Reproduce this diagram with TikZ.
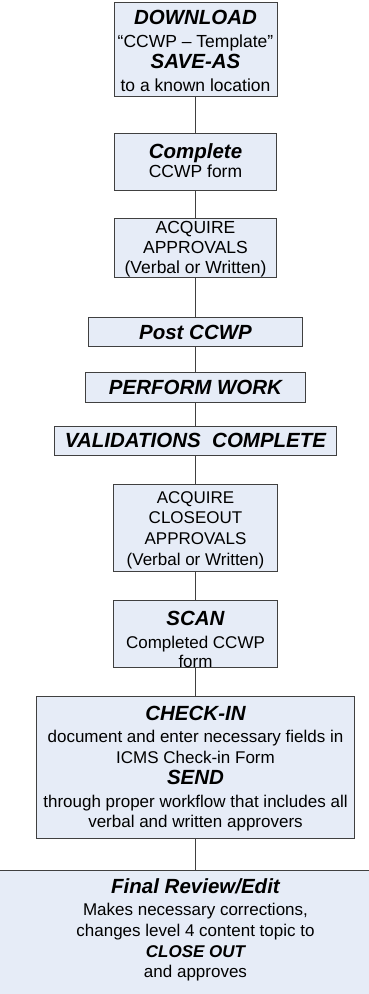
\documentclass[tikz,border=0pt]{standalone}
\usepackage{fontspec}
\setmainfont{Liberation Sans}
\definecolor{boxfill}{RGB}{230,236,247}
\definecolor{boxline}{RGB}{64,64,64}
\newcommand\hd[1]{{\fontsize{20.5}{22}\selectfont\bfseries\itshape #1}}
\newcommand\hs[1]{{\bfseries\itshape #1}}
\begin{document}
\begin{tikzpicture}[x=1pt,y=-1pt,
  box/.style={draw=boxline, fill=boxfill, line width=0.9pt, inner sep=0pt},
  txt/.style={inner sep=0pt, align=center, font=\fontsize{17.5}{21}\selectfont},
  lowtxt/.style={txt, font=\fontsize{17}{20.7}\selectfont},
  link/.style={draw=boxline, line width=1.1pt}]
\useasboundingbox (0,0) rectangle (369,994);
\clip (0,0) rectangle (369,994);
% boxes
\node[box, minimum width=163, minimum height=94] (b1) at (195.5,49) {};
\node[box, minimum width=162, minimum height=57] (b2) at (195.5,161.5) {};
\node[box, minimum width=162, minimum height=59] (b3) at (195.5,247.5) {};
\node[box, minimum width=214, minimum height=29] (b4) at (195.5,331.5) {};
\node[box, minimum width=220, minimum height=30] (b5) at (195.5,387) {};
\node[box, minimum width=282, minimum height=29] (b6) at (195.5,440.5) {};
\node[box, minimum width=164, minimum height=87] (b7) at (195.5,527.5) {};
\node[box, minimum width=164, minimum height=67] (b8) at (195.5,633.5) {};
\node[box, minimum width=318, minimum height=142] (b9) at (195.5,767) {};
\node[box, minimum width=420, minimum height=160, anchor=north] (b10) at (195.5,870) {};
% texts
\node[txt, font=\fontsize{17.5}{21.3}\selectfont] (t1) at ([yshift=-2pt]b1.center)
  {\hd{DOWNLOAD}\\[1.5pt]“CCWP – Template”\\\hd{SAVE-AS}\\[1.5pt]to a known location};
\node[txt, font=\fontsize{17.5}{19}\selectfont] (t2) at ([yshift=0.5pt]b2.center)
  {\hd{Complete}\\CCWP form};
\node[txt, font=\fontsize{17.5}{19.8}\selectfont] (t3) at ([yshift=-1.5pt]b3.center)
  {ACQUIRE\\APPROVALS\\(Verbal or Written)};
\node[txt] (t4) at ([yshift=-1pt]b4.center) {\hd{Post CCWP}};
\node[txt] (t5) at ([yshift=-0.5pt]b5.center) {\hd{PERFORM WORK}};
\node[txt] (t6) at (b6.center) {\hd{VALIDATIONS\ \ COMPLETE}};
\node[lowtxt] (t7) at ([yshift=-2.5pt]b7.center)
  {ACQUIRE\\CLOSEOUT\\APPROVALS\\(Verbal or Written)};
\node[lowtxt, font=\fontsize{17}{18.5}\selectfont] (t8) at ([yshift=-5.5pt]b8.center)
  {\hd{SCAN}\\[5pt]Completed CCWP\\form};
\node[lowtxt] (t9) at ([yshift=-2pt]b9.center)
  {\hd{CHECK-IN}\\[1pt]document and enter necessary fields in\\ICMS Check-in Form\\\hd{SEND}\\[2.5pt]through proper workflow that includes all\\verbal and written approvers};
\node[lowtxt, anchor=north] (t10) at ([yshift=-8.5pt]b10.north)
  {\hd{Final Review/Edit}\\[1.5pt]Makes necessary corrections,\\changes level 4 content topic to\\\hs{CLOSE OUT}\\and approves};
% connectors
\draw[link] (b1.south) -- (b2.north);
\draw[link] (b2.south) -- (b3.north);
\draw[link] (b3.south) -- (b4.north);
\draw[link] (b4.south) -- (b5.north);
\draw[link] (b5.south) -- (b6.north);
\draw[link] (b6.south) -- (b7.north);
\draw[link] (b7.south) -- (b8.north);
\draw[link] (b8.south) -- (b9.north);
\draw[link] (b9.south) -- (b10.north);
\end{tikzpicture}
\end{document}
